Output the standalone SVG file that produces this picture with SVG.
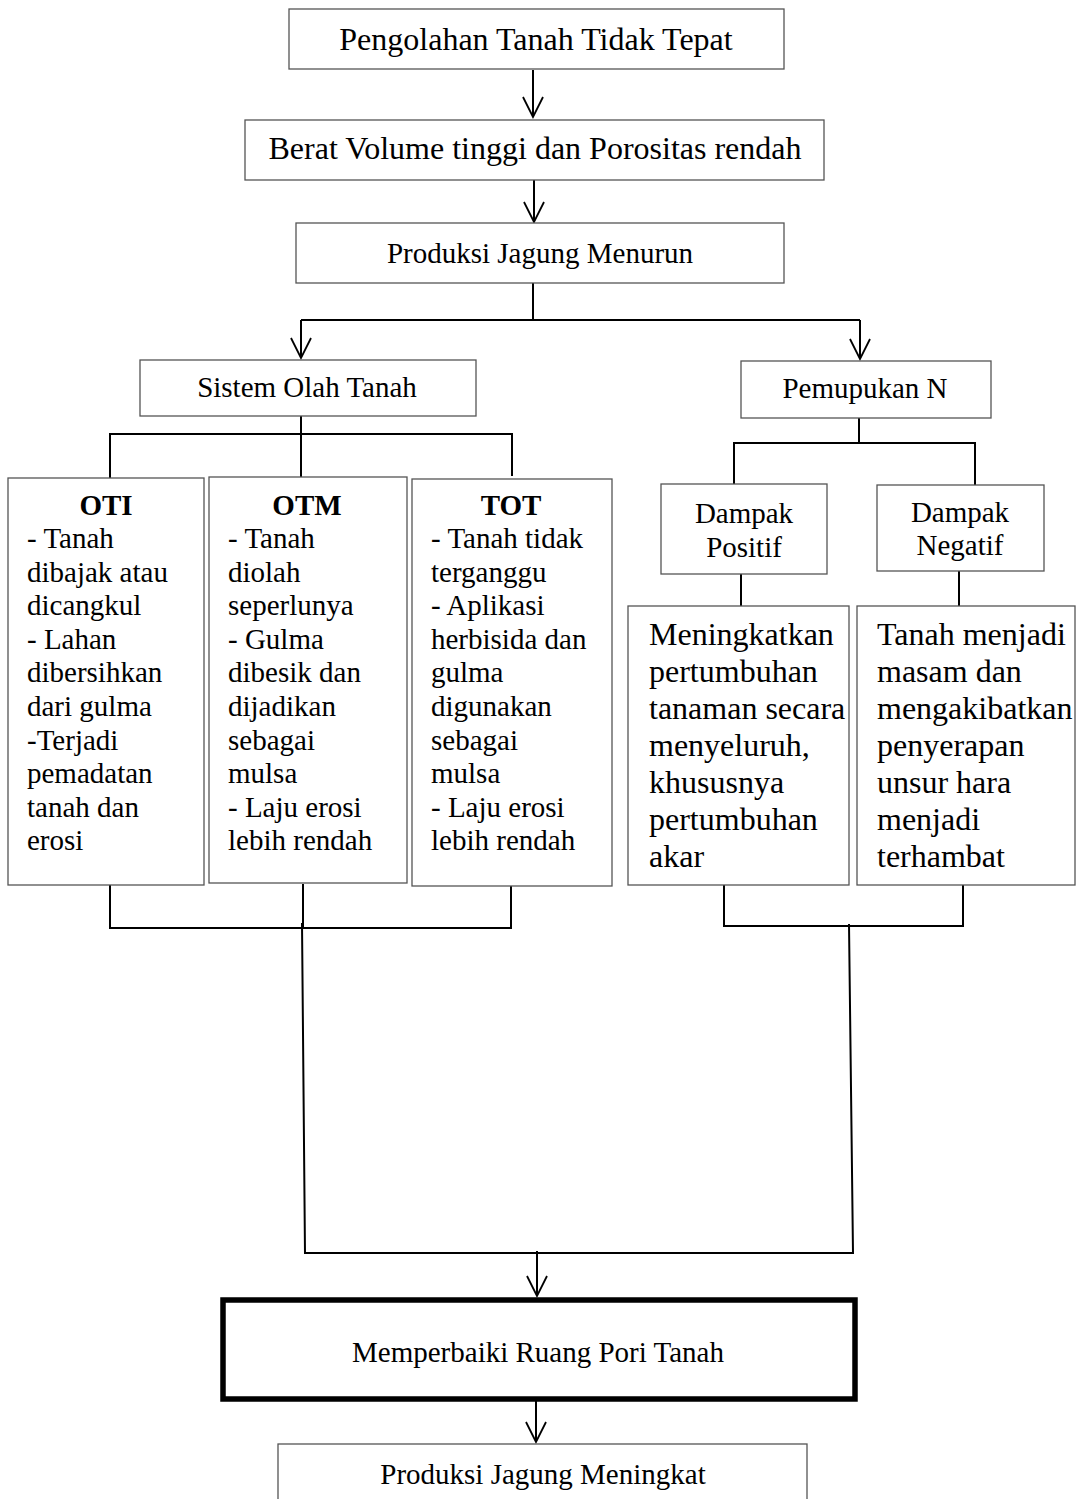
<svg xmlns="http://www.w3.org/2000/svg" width="1076" height="1499" viewBox="0 0 1076 1499">
<style>
.box{fill:#fff;stroke:#555;stroke-width:1.3}
.thick{fill:#fff;stroke:#000;stroke-width:5.5}
.c{fill:none;stroke:#000;stroke-width:2}
text{font-family:"Liberation Serif","Times New Roman",serif;fill:#000}
.t32{font-size:32px}
.t29{font-size:29px}
.mid{text-anchor:middle}
.b{font-weight:bold}
</style>
<defs>
<marker id="ah" markerUnits="userSpaceOnUse" viewBox="-22 -12 24 24" refX="0" refY="0" markerWidth="24" markerHeight="24" orient="auto" overflow="visible">
<path d="M-20,-10 L0,0 L-20,10" fill="none" stroke="#000" stroke-width="1.8"/>
</marker>
</defs>
<rect width="1076" height="1499" fill="#fff"/>
<g id="connectors">
<line class="c" x1="533" y1="70" x2="533" y2="117" marker-end="url(#ah)"/>
<line class="c" x1="534" y1="180" x2="534" y2="222" marker-end="url(#ah)"/>
<polyline class="c" points="533,283 533,320"/>
<polyline class="c" points="301,320 860,320"/>
<line class="c" x1="301" y1="320" x2="301" y2="358" marker-end="url(#ah)"/>
<line class="c" x1="860" y1="320" x2="860" y2="359" marker-end="url(#ah)"/>
<polyline class="c" points="301,416 301,477"/>
<polyline class="c" points="110,478 110,434 512,434 512,476"/>
<polyline class="c" points="859,418 859,443"/>
<polyline class="c" points="734,484 734,443 975,443 975,485"/>
<polyline class="c" points="741,574 741,606"/>
<polyline class="c" points="959,571 959,606"/>
<polyline class="c" points="110,885 110,928 511,928 511,886"/>
<polyline class="c" points="303,884 303,928"/>
<polyline class="c" points="724,885 724,926 963,926 963,885"/>
<polyline class="c" points="302,923 305,1253 853,1253 849,924"/>
<line class="c" x1="537" y1="1251" x2="537" y2="1296" marker-end="url(#ah)"/>
<line class="c" x1="536" y1="1400" x2="536" y2="1442" marker-end="url(#ah)"/>
</g>
<g id="n1"><rect class="box" x="289" y="9" width="495" height="60"/><text class="t32 mid" x="536" y="50">Pengolahan Tanah Tidak Tepat</text></g>
<g id="n2"><rect class="box" x="245" y="120" width="579" height="60"/><text class="t32 mid" x="535" y="159">Berat Volume tinggi dan Porositas rendah</text></g>
<g id="n3"><rect class="box" x="296" y="223" width="488" height="60"/><text class="t29 mid" x="540" y="263">Produksi Jagung Menurun</text></g>
<g id="n4"><rect class="box" x="140" y="360" width="336" height="56"/><text class="t29 mid" x="307" y="397">Sistem Olah Tanah</text></g>
<g id="n5"><rect class="box" x="741" y="361" width="250" height="57"/><text class="t29 mid" x="865" y="398">Pemupukan N</text></g>
<g id="n6"><rect class="box" x="8" y="478" width="196" height="407"/>
<text class="t29 mid b" x="106" y="515">OTI</text>
<text class="t29" x="27" y="548">- Tanah</text>
<text class="t29" x="27" y="582">dibajak atau</text>
<text class="t29" x="27" y="615">dicangkul</text>
<text class="t29" x="27" y="649">- Lahan</text>
<text class="t29" x="27" y="682">dibersihkan</text>
<text class="t29" x="27" y="716">dari gulma</text>
<text class="t29" x="27" y="750">-Terjadi</text>
<text class="t29" x="27" y="783">pemadatan</text>
<text class="t29" x="27" y="817">tanah dan</text>
<text class="t29" x="27" y="850">erosi</text>
</g>
<g id="n7"><rect class="box" x="209" y="477" width="198" height="406"/>
<text class="t29 mid b" x="307" y="515">OTM</text>
<text class="t29" x="228" y="548">- Tanah</text>
<text class="t29" x="228" y="582">diolah</text>
<text class="t29" x="228" y="615">seperlunya</text>
<text class="t29" x="228" y="649">- Gulma</text>
<text class="t29" x="228" y="682">dibesik dan</text>
<text class="t29" x="228" y="716">dijadikan</text>
<text class="t29" x="228" y="750">sebagai</text>
<text class="t29" x="228" y="783">mulsa</text>
<text class="t29" x="228" y="817">- Laju erosi</text>
<text class="t29" x="228" y="850">lebih rendah</text>
</g>
<g id="n8"><rect class="box" x="412" y="479" width="200" height="407"/>
<text class="t29 mid b" x="511" y="515">TOT</text>
<text class="t29" x="431" y="548">- Tanah tidak</text>
<text class="t29" x="431" y="582">terganggu</text>
<text class="t29" x="431" y="615">- Aplikasi</text>
<text class="t29" x="431" y="649">herbisida dan</text>
<text class="t29" x="431" y="682">gulma</text>
<text class="t29" x="431" y="716">digunakan</text>
<text class="t29" x="431" y="750">sebagai</text>
<text class="t29" x="431" y="783">mulsa</text>
<text class="t29" x="431" y="817">- Laju erosi</text>
<text class="t29" x="431" y="850">lebih rendah</text>
</g>
<g id="n9"><rect class="box" x="661" y="484" width="166" height="90"/><text class="t29 mid" x="744" y="523">Dampak</text><text class="t29 mid" x="744" y="557">Positif</text></g>
<g id="n10"><rect class="box" x="877" y="485" width="167" height="86"/><text class="t29 mid" x="960" y="522">Dampak</text><text class="t29 mid" x="960" y="555">Negatif</text></g>
<g id="n11"><rect class="box" x="628" y="606" width="221" height="279"/>
<text class="t32" x="649" y="645">Meningkatkan</text>
<text class="t32" x="649" y="682">pertumbuhan</text>
<text class="t32" x="649" y="719">tanaman secara</text>
<text class="t32" x="649" y="756">menyeluruh,</text>
<text class="t32" x="649" y="793">khususnya</text>
<text class="t32" x="649" y="830">pertumbuhan</text>
<text class="t32" x="649" y="867">akar</text>
</g>
<g id="n12"><rect class="box" x="857" y="606" width="218" height="279"/>
<text class="t32" x="877" y="645">Tanah menjadi</text>
<text class="t32" x="877" y="682">masam dan</text>
<text class="t32" x="877" y="719">mengakibatkan</text>
<text class="t32" x="877" y="756">penyerapan</text>
<text class="t32" x="877" y="793">unsur hara</text>
<text class="t32" x="877" y="830">menjadi</text>
<text class="t32" x="877" y="867">terhambat</text>
</g>
<g id="n13"><rect class="thick" x="223" y="1300" width="632" height="99"/><text class="t29 mid" x="538" y="1362">Memperbaiki Ruang Pori Tanah</text></g>
<g id="n14"><rect class="box" x="278" y="1444" width="529" height="70"/><text class="t29 mid" x="543" y="1484">Produksi Jagung Meningkat</text></g>
</svg>
